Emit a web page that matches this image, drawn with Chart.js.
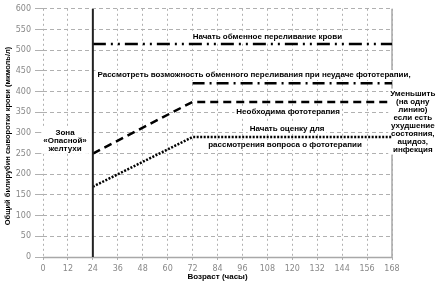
<!DOCTYPE html>
<html>
<head>
<meta charset="utf-8">
<script src="https://cdn.jsdelivr.net/npm/chart.js@4.4.1/dist/chart.umd.min.js"></script>
<style>
html,body{margin:0;padding:0;background:#fff;}
#wrap{width:442px;height:287px;position:relative;}
</style>
</head>
<body>
<div id="wrap"><canvas id="c" width="442" height="287"></canvas></div>
<script>
// ---- data ----
const xTicks = [0, 12, 24, 36, 48, 60, 72, 84, 96, 108, 120, 132, 144, 156, 168];
const yTicks = [0, 50, 100, 150, 200, 250, 300, 350, 400, 450, 500, 550, 600];

const zoneX = [24, 24];
const zoneY = [0, 600];
const exchangeX = [24, 168];
const exchangeY = [515, 515];
const considerX = [72, 168];
const considerY = [420, 420];
const photoX = [24, 72, 168];
const photoY = [250, 375, 375];
const evalX = [24, 72, 168];
const evalY = [170, 290, 290];

const xTitle = 'Возраст (часы)';
const yTitle = 'Общий билирубин сыворотки крови (мкмоль/л)';

// text labels in data coordinates (lines, x, y of first line)
const notes = [
  {lines: ['Начать обменное переливание крови'], x: 108, y: 533},
  {lines: ['Рассмотреть возможность обменного переливания при неудаче фототерапии,'], x: 101.6, y: 440},
  {lines: ['Необходима фототерапия'], x: 118, y: 352},
  {lines: ['Начать оценку для'], x: 117.5, y: 310},
  {lines: ['рассмотрения вопроса о фототерапии'], x: 116.5, y: 271},
  {lines: ['Уменьшить', '(на одну', 'линию)', 'если есть', 'ухудшение', 'состояния,', 'ацидоз,', 'инфекция'], x: 178, y: 395},
  {lines: ['Зона', '«Опасной»', 'желтухи'], x: 10.6, y: 300}
];

function pts(xs, ys) { return xs.map((x, i) => ({x: x, y: ys[i]})); }

const LABEL_FONT = "bold 8px 'Liberation Sans', Arial, sans-serif";
const TITLE_FONT_Y = "bold 7.5px 'Liberation Sans', Arial, sans-serif";
const LINE_H = 8;

const decor = {
  id: 'decor',
  beforeDatasetsDraw(chart) {
    const {ctx, chartArea: a, scales} = chart;
    ctx.save();
    ctx.strokeStyle = '#a8a8a8';
    ctx.lineWidth = 1.5;
    ctx.setLineDash([]);
    ctx.beginPath();
    ctx.moveTo(a.left, a.bottom + 0.5);
    ctx.lineTo(a.right, a.bottom + 0.5);
    ctx.moveTo(a.right, a.top);
    ctx.lineTo(a.right, a.bottom);
    ctx.stroke();
    ctx.font = LABEL_FONT;
    ctx.textAlign = 'center';
    ctx.textBaseline = 'middle';
    notes.forEach(n => {
      const cx = scales.x.getPixelForValue(n.x);
      const cy = scales.y.getPixelForValue(n.y);
      let w = 0;
      n.lines.forEach(l => { w = Math.max(w, ctx.measureText(l).width); });
      const h = n.lines.length * LINE_H;
      ctx.fillStyle = '#fff';
      ctx.fillRect(cx - w / 2 - 2, cy - LINE_H / 2 - 1, w + 4, h + 2);
      ctx.fillStyle = '#000';
      n.lines.forEach((l, i) => ctx.fillText(l, cx, cy + i * LINE_H));
    });
    ctx.restore();
  },
  afterDraw(chart) {
    const {ctx, chartArea: a} = chart;
    ctx.save();
    ctx.font = LABEL_FONT;
    ctx.fillStyle = '#000';
    ctx.textAlign = 'center';
    ctx.textBaseline = 'middle';
    ctx.fillText(xTitle, (a.left + a.right) / 2, 277);
    ctx.font = TITLE_FONT_Y;
    ctx.translate(8, 136);
    ctx.rotate(-Math.PI / 2);
    ctx.fillText(yTitle, 0, 0);
    ctx.restore();
  }
};

const lineStyle = {borderColor: '#000', borderWidth: 2.5, pointRadius: 0, fill: false, tension: 0};

new Chart(document.getElementById('c'), {
  type: 'line',
  data: {
    datasets: [
      {label: 'zone', data: pts(zoneX, zoneY), borderColor: '#222', borderWidth: 2, pointRadius: 0, fill: false},
      Object.assign({}, lineStyle, {label: 'exchange', data: pts(exchangeX, exchangeY), borderDash: [13, 5, 2, 5, 2, 5]}),
      Object.assign({}, lineStyle, {label: 'consider', data: pts(considerX, considerY), borderDash: [12, 5, 2, 5]}),
      Object.assign({}, lineStyle, {label: 'photo', data: pts(photoX, photoY), borderDash: [8, 5]}),
      Object.assign({}, lineStyle, {label: 'eval', data: pts(evalX, evalY), borderDash: [2, 1.5]})
    ]
  },
  options: {
    responsive: false,
    animation: false,
    devicePixelRatio: 1,
    layout: {padding: {left: 0, right: 50, top: 5, bottom: 0}},
    plugins: {legend: {display: false}, tooltip: {enabled: false}},
    scales: {
      x: {
        type: 'linear', min: 0, max: 168,
        afterBuildTicks: s => { s.ticks = xTicks.map(v => ({value: v})); },
        afterFit: s => { s.height = 30; },
        grid: {color: '#b0b0b0', lineWidth: 1, tickLength: 3, tickColor: '#b0b0b0'},
        border: {display: false, dash: [2, 3]},
        ticks: {color: '#888', font: {family: "'DejaVu Sans', Verdana, sans-serif", size: 8}, padding: 4, maxRotation: 0, autoSkip: false}
      },
      y: {
        type: 'linear', min: 0, max: 600,
        afterBuildTicks: s => { s.ticks = yTicks.map(v => ({value: v})); },
        afterFit: s => { s.width = 43; },
        grid: {color: '#b0b0b0', lineWidth: 1, tickLength: 8, tickColor: '#b0b0b0'},
        border: {display: false, dash: [4, 3]},
        ticks: {color: '#888', font: {family: "'DejaVu Sans', Verdana, sans-serif", size: 8}, padding: 4, autoSkip: false}
      }
    }
  },
  plugins: [decor]
});
</script>
</body>
</html>
